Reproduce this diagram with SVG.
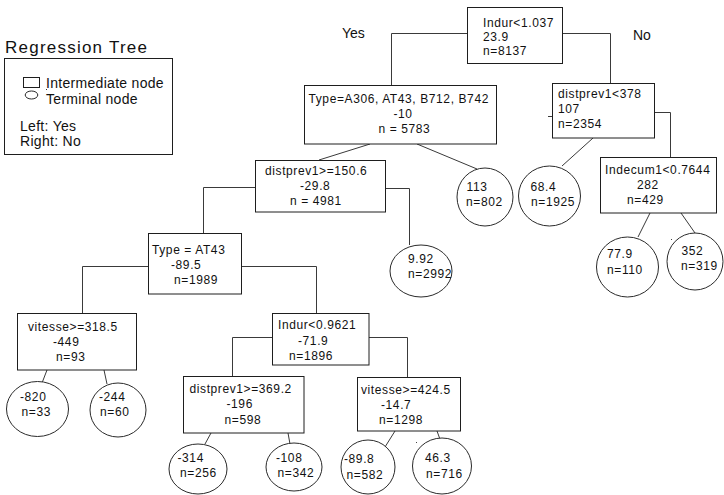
<svg xmlns="http://www.w3.org/2000/svg" width="724" height="495" viewBox="0 0 724 495">
<style>
.box{fill:#fff;stroke:#1e1e1e;stroke-width:1}
.leaf{fill:#fff;stroke:#2a2a2a;stroke-width:1}
.conn{fill:none;stroke:#3a3a3a;stroke-width:1}
text{font-family:"Liberation Sans",Arial,sans-serif;fill:#111}
.t{font-size:12px;letter-spacing:0.6px}
.lg{font-size:14px;letter-spacing:0.3px}
.yn{font-size:14px}
</style>
<rect width="724" height="495" fill="#fff"/>
<g id="legend">
<text x="5" y="53" font-size="17" textLength="142">Regression Tree</text>
<rect class="box" x="4.5" y="58.5" width="168" height="96"/>
<rect class="box" x="23.5" y="77.5" width="16" height="10"/>
<text class="lg" x="46" y="88">Intermediate node</text>
<ellipse class="leaf" cx="31.5" cy="95" rx="6.3" ry="4"/>
<rect x="46" y="89" width="1" height="1" fill="#333"/>
<text class="lg" x="46" y="104">Terminal node</text>
<text class="lg" x="20" y="131">Left: Yes</text>
<text class="lg" x="20" y="145.5">Right: No</text>
</g>
<g id="yesno">
<text class="yn" x="342" y="37.5">Yes</text>
<text class="yn" x="633" y="40">No</text>
</g>
<g id="connectors">
<path class="conn" d="M467,33.5 H391.5 V85"/>
<path class="conn" d="M563,33.5 H610.5 V83"/>
<path class="conn" d="M370,144 L319,160"/>
<path class="conn" d="M417,144 L477,169"/>
<path class="conn" d="M593,138 L562,166"/>
<path class="conn" d="M655,112.5 H670.5 V157"/>
<path class="conn" d="M548,116.5 H552"/>
<path class="conn" d="M650,213 L638,237"/>
<path class="conn" d="M681,213 L695,233"/>
<path class="conn" d="M255,187.5 H203.5 V233"/>
<path class="conn" d="M386,188.5 H409.5 V245"/>
<path class="conn" d="M148,266.5 H82.5 V313"/>
<path class="conn" d="M242,266.5 H316.5 V313"/>
<path class="conn" d="M47,370 L42,383"/>
<path class="conn" d="M104,370 L107,384"/>
<path class="conn" d="M272,337.5 H232.5 V376"/>
<path class="conn" d="M369,337.5 H407.5 V377"/>
<path class="conn" d="M211,433 L205,444"/>
<path class="conn" d="M288,433 L290,444"/>
<path class="conn" d="M395,431 L385,447"/>
<path class="conn" d="M437,431 L441,442"/>
<rect x="671" y="239" width="1" height="1" fill="#444"/>
<rect x="416" y="442" width="1" height="1" fill="#444"/>
</g>
<g id="n_root">
<rect class="box" x="467.5" y="7.5" width="95" height="56"/>
<text class="t" x="483" y="26.5">Indur&lt;1.037</text>
<text class="t" x="483" y="40.5">23.9</text>
<text class="t" x="483" y="54.5">n=8137</text>
</g>
<g id="n_type">
<rect class="box" x="304.5" y="85.5" width="192" height="58.5"/>
<text class="t" x="308.5" y="102.5">Type=A306, AT43, B712, B742</text>
<text class="t" x="393.5" y="117.5">-10</text>
<text class="t" x="378.5" y="132.5">n = 5783</text>
</g>
<g id="n_distprev378">
<rect class="box" x="552.5" y="83.5" width="102" height="54.5"/>
<text class="t" x="558" y="97.5">distprev1&lt;378</text>
<text class="t" x="558" y="112.5">107</text>
<text class="t" x="558" y="127.5">n=2354</text>
</g>
<g id="n_distprev150">
<rect class="box" x="255.5" y="160.5" width="130" height="51.5"/>
<text class="t" x="265" y="174.5">distprev1&gt;=150.6</text>
<text class="t" x="300" y="190">-29.8</text>
<text class="t" x="290" y="205">n = 4981</text>
</g>
<g id="l_113">
<ellipse class="leaf" cx="485" cy="197" rx="28" ry="29"/>
<text class="t" x="466.5" y="190.5">113</text>
<text class="t" x="466" y="205.5">n=802</text>
</g>
<g id="l_684">
<ellipse class="leaf" cx="549.5" cy="196" rx="31" ry="30"/>
<text class="t" x="530.5" y="190.5">68.4</text>
<text class="t" x="531" y="206">n=1925</text>
</g>
<g id="n_indecum">
<rect class="box" x="600.5" y="157.5" width="116" height="55.5"/>
<text class="t" x="605" y="173.5">Indecum1&lt;0.7644</text>
<text class="t" x="637" y="188.5">282</text>
<text class="t" x="627" y="203.5">n=429</text>
</g>
<g id="l_779">
<ellipse class="leaf" cx="627.5" cy="267" rx="31" ry="30"/>
<text class="t" x="607" y="257.5">77.9</text>
<text class="t" x="607" y="274">n=110</text>
</g>
<g id="l_352">
<ellipse class="leaf" cx="695" cy="261.5" rx="28" ry="28.5"/>
<text class="t" x="681.5" y="254.5">352</text>
<text class="t" x="681" y="269.5">n=319</text>
</g>
<g id="l_992">
<ellipse class="leaf" cx="421" cy="271" rx="31" ry="26"/>
<text class="t" x="408" y="262.5">9.92</text>
<text class="t" x="408" y="277.5">n=2992</text>
</g>
<g id="n_at43">
<rect class="box" x="148.5" y="233.5" width="93" height="60.5"/>
<text class="t" x="152" y="254">Type = AT43</text>
<text class="t" x="171" y="269">-89.5</text>
<text class="t" x="174" y="284">n=1989</text>
</g>
<g id="n_vitesse318">
<rect class="box" x="17.5" y="313.5" width="119" height="56.5"/>
<text class="t" x="28" y="331">vitesse&gt;=318.5</text>
<text class="t" x="53" y="346">-449</text>
<text class="t" x="56" y="361">n=93</text>
</g>
<g id="l_820">
<ellipse class="leaf" cx="37.5" cy="409" rx="31" ry="27.5"/>
<text class="t" x="20" y="401">-820</text>
<text class="t" x="21.5" y="416">n=33</text>
</g>
<g id="l_244">
<ellipse class="leaf" cx="118" cy="410" rx="28" ry="27"/>
<text class="t" x="99" y="401">-244</text>
<text class="t" x="100" y="416">n=60</text>
</g>
<g id="n_indur096">
<rect class="box" x="272.5" y="313.5" width="96.5" height="51.5"/>
<text class="t" x="278" y="328.5">Indur&lt;0.9621</text>
<text class="t" x="298" y="344.5">-71.9</text>
<text class="t" x="289" y="359.5">n=1896</text>
</g>
<g id="n_distprev369">
<rect class="box" x="183.5" y="376.5" width="120.5" height="56.5"/>
<text class="t" x="189.5" y="392.5">distprev1&gt;=369.2</text>
<text class="t" x="226.5" y="407.5">-196</text>
<text class="t" x="224.5" y="423.5">n=598</text>
</g>
<g id="n_vitesse424">
<rect class="box" x="357.5" y="377.5" width="103" height="53.5"/>
<text class="t" x="361" y="393.5">vitesse&gt;=424.5</text>
<text class="t" x="381" y="409">-14.7</text>
<text class="t" x="379" y="424">n=1298</text>
</g>
<g id="l_314">
<ellipse class="leaf" cx="198" cy="469" rx="29" ry="25"/>
<text class="t" x="177.5" y="461.5">-314</text>
<text class="t" x="180" y="477">n=256</text>
</g>
<g id="l_108">
<ellipse class="leaf" cx="294" cy="467" rx="28" ry="24"/>
<text class="t" x="276" y="461.5">-108</text>
<text class="t" x="277.5" y="477">n=342</text>
</g>
<g id="l_898">
<ellipse class="leaf" cx="368" cy="467" rx="27" ry="27"/>
<text class="t" x="344" y="463">-89.8</text>
<text class="t" x="346.5" y="478.5">n=582</text>
</g>
<g id="l_463">
<ellipse class="leaf" cx="442" cy="466" rx="29.5" ry="28"/>
<text class="t" x="425" y="461.5">46.3</text>
<text class="t" x="426" y="477.5">n=716</text>
</g>
</svg>
